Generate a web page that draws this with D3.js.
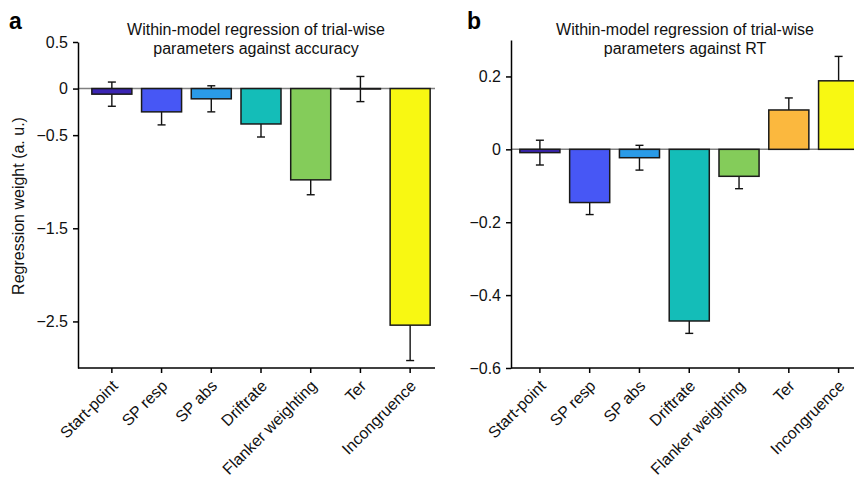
<!DOCTYPE html>
<html>
<head>
<meta charset="utf-8">
<script src="https://cdn.jsdelivr.net/npm/d3@7"></script>
<style>
  body { margin: 0; background: #fff; }
  svg { font-family: "Liberation Sans", Arial, Helvetica, sans-serif; }
</style>
</head>
<body>
<div id="chart"></div>
<script>
// The data
var categories = ['Start-point', 'SP resp', 'SP abs', 'Driftrate', 'Flanker weighting', 'Ter', 'Incongruence'];
var barColors = ['#3b25b3', '#4757f5', '#2a9be8', '#14bdb8', '#84cc5a', '#fbb83e', '#f8f812'];

var accMeans = [-0.06, -0.25, -0.11, -0.38, -0.98, -0.005, -2.54];
var accErrors = [0.13, 0.14, 0.14, 0.14, 0.16, 0.135, 0.38];
var accTicks = [0.5, 0, -0.5, -1.5, -2.5];

var rtMeans = [-0.009, -0.146, -0.023, -0.471, -0.074, 0.108, 0.188];
var rtErrors = [0.034, 0.033, 0.034, 0.034, 0.034, 0.033, 0.067];
var rtTicks = [0.2, 0, -0.2, -0.4, -0.6];

var width = 854, height = 481;
var fontSize = '16px';

var svg = d3.select('#chart').append('svg')
    .attr('width', width)
    .attr('height', height);

var fmt = d3.format('');

function drawPanel(opts) {
  var g = svg.append('g');

  var x = d3.scaleBand()
      .domain(categories)
      .range([opts.x0, opts.x1])
      .paddingInner(0.195)
      .paddingOuter(0.0975);

  var y = d3.scaleLinear()
      .domain(opts.yDomain)
      .range([368, opts.yTop]);

  var data = categories.map(function(c, i) {
    return { name: c, mean: opts.means[i], err: opts.errors[i], color: barColors[i] };
  });

  // zero line
  g.append('line')
      .attr('x1', opts.axisX).attr('x2', opts.xEnd)
      .attr('y1', y(0)).attr('y2', y(0))
      .style('stroke', '#808080')
      .style('stroke-width', 1.5);

  // error bars (drawn under the bars)
  var eb = g.selectAll('.err')
      .data(data)
      .enter()
    .append('g')
      .attr('class', 'err')
      .attr('transform', function(d) { return 'translate(' + (x(d.name) + x.bandwidth() / 2) + ',0)'; })
      .style('stroke', '#111')
      .style('stroke-width', 1.4);
  eb.append('line')
      .attr('y1', function(d) { return y(d.mean - d.err); })
      .attr('y2', function(d) { return y(d.mean + d.err); });
  eb.append('line')
      .attr('x1', -4).attr('x2', 4)
      .attr('y1', function(d) { return y(d.mean - d.err); })
      .attr('y2', function(d) { return y(d.mean - d.err); });
  eb.append('line')
      .attr('x1', -4).attr('x2', 4)
      .attr('y1', function(d) { return y(d.mean + d.err); })
      .attr('y2', function(d) { return y(d.mean + d.err); });

  // bars
  g.selectAll('.bar')
      .data(data)
      .enter()
    .append('rect')
      .attr('class', 'bar')
      .attr('x', function(d) { return x(d.name); })
      .attr('y', function(d) { return y(Math.max(0, d.mean)); })
      .attr('width', x.bandwidth())
      .attr('height', function(d) { return Math.abs(y(d.mean) - y(0)); })
      .style('fill', function(d) { return d.color; })
      .style('stroke', '#1a1a1a')
      .style('stroke-width', 1.5);

  // y axis
  var yAxis = g.append('g')
      .attr('transform', 'translate(' + opts.axisX + ',0)')
      .call(d3.axisLeft(y).tickValues(opts.ticks).tickSize(5).tickSizeOuter(0).tickFormat(fmt));
  yAxis.select('.domain').style('stroke-width', 1.5);
  yAxis.selectAll('.tick line').style('stroke-width', 1.5);
  yAxis.selectAll('text')
      .attr('x', -10)
      .style('font-size', fontSize)
      .style('fill', '#111');

  // x axis
  var xAxis = g.append('g')
      .attr('transform', 'translate(0,368)')
      .call(d3.axisBottom(x).tickSize(5).tickSizeOuter(0));
  xAxis.select('.domain').remove();
  xAxis.append('line')
      .attr('x1', opts.axisX).attr('x2', opts.xEnd)
      .style('stroke', '#000')
      .style('stroke-width', 1.5);
  xAxis.selectAll('.tick line').style('stroke-width', 1.5);
  xAxis.selectAll('text')
      .attr('x', 0).attr('y', 0).attr('dy', '0.35em')
      .attr('transform', 'translate(3,15) rotate(-45)')
      .style('text-anchor', 'end')
      .style('font-size', fontSize)
      .style('fill', '#111');

  // title
  g.append('text')
      .attr('x', opts.titleX)
      .attr('y', 35)
      .attr('text-anchor', 'middle')
      .style('font-size', fontSize)
      .style('fill', '#111')
      .selectAll('tspan')
      .data(opts.title)
      .enter()
    .append('tspan')
      .attr('x', opts.titleX)
      .attr('dy', function(d, i) { return i === 0 ? 0 : 19; })
      .text(function(d) { return d; });

  // panel letter
  g.append('text')
      .attr('x', opts.letterX)
      .attr('y', 29)
      .style('font-size', '23px')
      .style('font-weight', 'bold')
      .text(opts.letter);
}

drawPanel({
  x0: 87, x1: 435, axisX: 78, xEnd: 435, yTop: 42,
  yDomain: [-3, 0.5], ticks: accTicks,
  means: accMeans, errors: accErrors,
  title: ['Within-model regression of trial-wise', 'parameters against accuracy'],
  titleX: 256, letter: 'a', letterX: 9
});

drawPanel({
  x0: 515, x1: 863.5, axisX: 511, xEnd: 854, yTop: 40,
  yDomain: [-0.6, 0.3], ticks: rtTicks,
  means: rtMeans, errors: rtErrors,
  title: ['Within-model regression of trial-wise', 'parameters against RT'],
  titleX: 685, letter: 'b', letterX: 467
});

// y axis label
svg.append('text')
    .attr('transform', 'translate(24,206) rotate(-90)')
    .attr('text-anchor', 'middle')
    .style('font-size', fontSize)
    .style('fill', '#111')
    .text('Regression weight (a. u.)');
</script>
</body>
</html>
